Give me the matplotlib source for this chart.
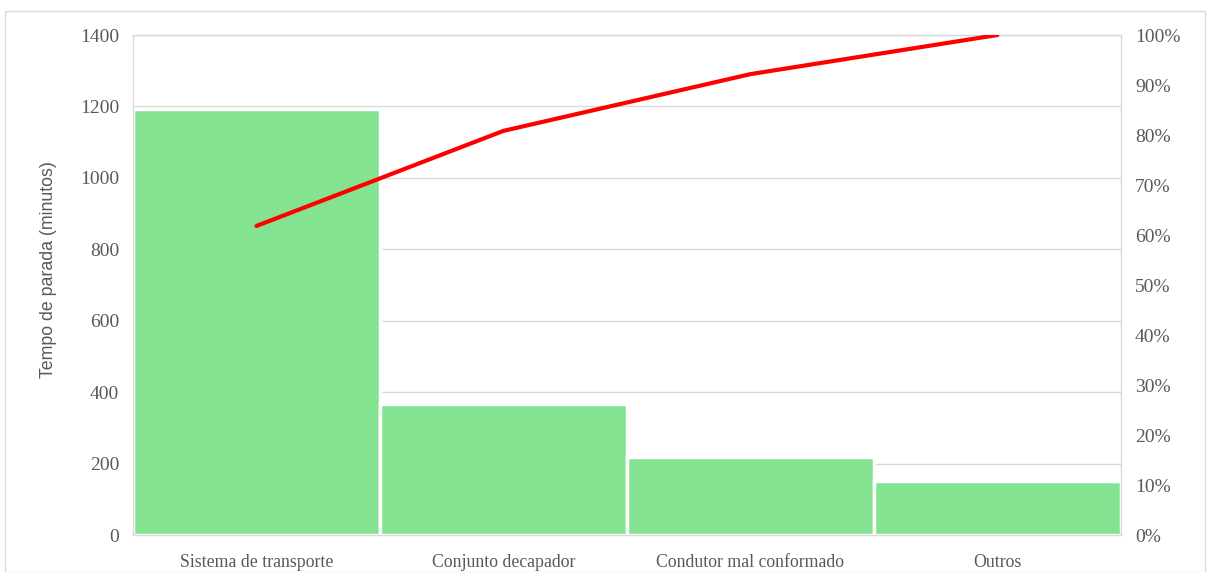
import numpy as np
import matplotlib
matplotlib.use("Agg")
import matplotlib.pyplot as plt
from matplotlib.patches import Rectangle

# data
categorias = ["Sistema de transporte", "Conjunto decapador",
              "Condutor mal conformado", "Outros"]
tempos = [1193, 367, 219, 151]
ylim_left = 1400
yticks_left = [0, 200, 400, 600, 800, 1000, 1200, 1400]
yticks_right = [0, 10, 20, 30, 40, 50, 60, 70, 80, 90, 100]

acum = np.cumsum(tempos) / np.sum(tempos) * 100

W, H = 1212, 572
fig = plt.figure(figsize=(W / 100, H / 100), dpi=100)
ax = fig.add_axes([133 / W, 1 - 535 / H, (1121 - 133) / W, 500 / H])

grid_c = "#d9d9d9"
txt_c = "#595959"
serif = ["Liberation Serif", "DejaVu Serif"]

x = np.arange(len(categorias))
ax.set_axisbelow(True)
ax.yaxis.grid(True, color=grid_c, lw=1)
ax.bar(x, tempos, width=1.0, color="#84e391", edgecolor="white", lw=2.5, zorder=2)
ax.set_xlim(-0.5, len(categorias) - 0.5)
ax.set_ylim(0, ylim_left)
ax.set_yticks(yticks_left)
ax.set_xticks(x)
ax.set_xticklabels(categorias, family=serif, fontsize=12.8, color=txt_c)
for lbl in ax.get_yticklabels():
    lbl.set_family(serif)
    lbl.set_fontsize(14)
    lbl.set_color(txt_c)
ax.tick_params(length=0)
ax.tick_params(axis="x", pad=14)
ax.tick_params(axis="y", pad=10)
for s in ax.spines.values():
    s.set_color(grid_c)
    s.set_linewidth(1)
ax.set_ylabel("Tempo de parada (minutos)", family=["Liberation Sans", "DejaVu Sans"],
              fontsize=12.8, color=txt_c)
ax.yaxis.set_label_coords(-0.077, 0.53)

ax2 = ax.twinx()
ax2.plot(x, acum, color="#ff0000", lw=3, solid_capstyle="round", zorder=3)
ax2.set_ylim(0, 100)
ax2.set_yticks(yticks_right)
ax2.set_yticklabels([f"{v}%" for v in yticks_right], family=serif, fontsize=14, color=txt_c)
ax2.tick_params(length=0, pad=10)
for s in ax2.spines.values():
    s.set_visible(False)

fig.patches.append(Rectangle((5 / W, 0), 1200 / W, 1 - 11 / H, transform=fig.transFigure,
                             fill=False, edgecolor="#d9d9d9", lw=1))

fig.savefig("out.png", dpi=100)
